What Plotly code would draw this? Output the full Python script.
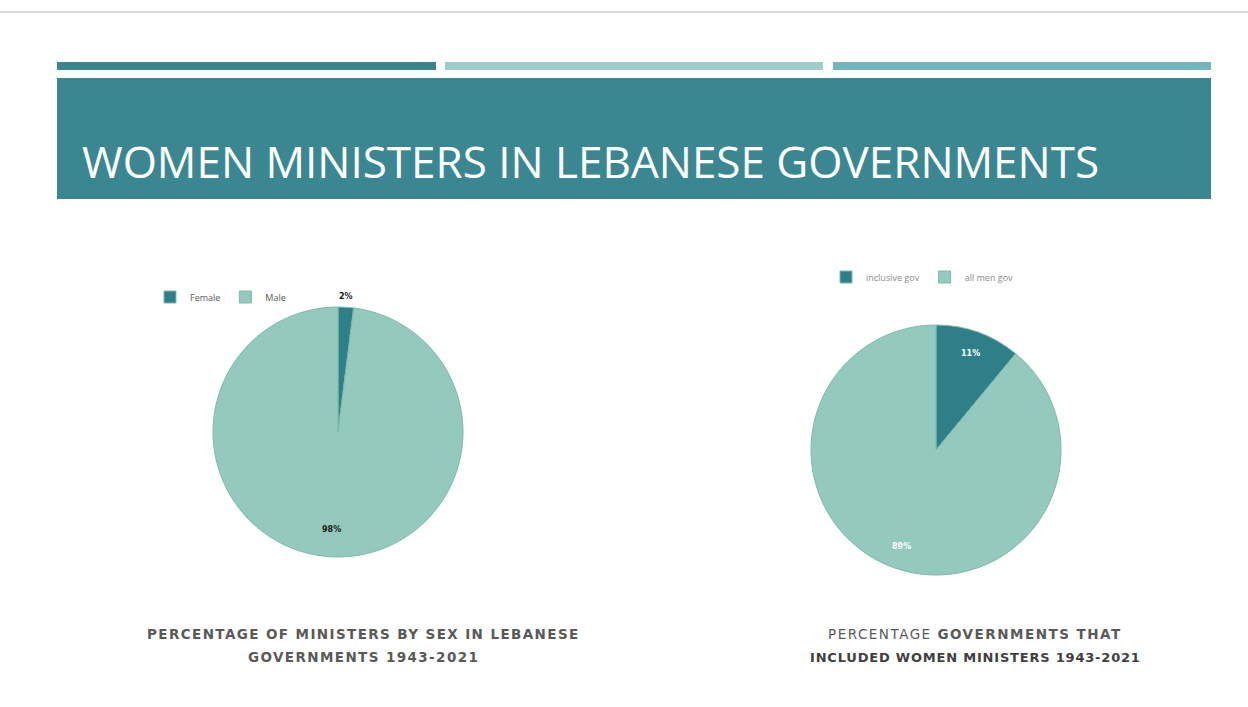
import math
import plotly.graph_objects as go

# Ministers by sex, 1943-2021 (percent)
sex_labels = ["Female", "Male"]
sex_values = [2, 98]

# Governments with / without women ministers, 1943-2021 (percent)
gov_labels = ["inclusive gov", "all men gov"]
gov_values = [11, 89]

DARK = "#2f7f89"
LIGHT = "#94c9bd"
HEADER = "#3b8791"
GREY_TXT = "#595959"

W, H = 1248, 707

# pie geometry in pixels: centre and radius
LEFT_PIE = dict(cx=338, cy=432, r=125)
RIGHT_PIE = dict(cx=936, cy=450, r=125)


def pie_domain(p):
    return dict(x=[(p["cx"] - p["r"]) / W, (p["cx"] + p["r"]) / W],
                y=[1 - (p["cy"] + p["r"]) / H, 1 - (p["cy"] - p["r"]) / H])


def slice_label_positions(values, p, frac):
    """Paper coordinates near the outer edge of each slice (clockwise from 12 o'clock)."""
    total = sum(values)
    out, start = [], 0.0
    for v in values:
        mid = (start + v / 2) / total * 2 * math.pi
        start += v
        x = p["cx"] + frac * p["r"] * math.sin(mid)
        y = p["cy"] - frac * p["r"] * math.cos(mid)
        out.append((x / W, 1 - y / H))
    return out


def spaced(text, px):
    return f'<span style="letter-spacing:{px}px">{text}</span>'


fig = go.Figure()

for labels, values, p, leg in [(sex_labels, sex_values, LEFT_PIE, "legend"),
                               (gov_labels, gov_values, RIGHT_PIE, "legend2")]:
    fig.add_trace(go.Pie(
        labels=labels, values=values, sort=False, direction="clockwise", rotation=0,
        marker=dict(colors=[DARK, LIGHT], line=dict(color="#7fb9ad", width=1)),
        textinfo="none", domain=pie_domain(p), legend=leg, hoverinfo="label+percent",
    ))

shapes = [
    # slide top edge
    dict(type="line", xref="paper", yref="paper", x0=0, x1=1, y0=1 - 12 / H, y1=1 - 12 / H,
         line=dict(color="#d9d9d9", width=2)),
    # accent bars
    dict(type="rect", xref="paper", yref="paper", x0=57 / W, x1=436 / W, y0=1 - 70 / H, y1=1 - 62 / H,
         fillcolor="#3a8590", line_width=0),
    dict(type="rect", xref="paper", yref="paper", x0=445 / W, x1=823 / W, y0=1 - 70 / H, y1=1 - 62 / H,
         fillcolor="#9ccfc9", line_width=0),
    dict(type="rect", xref="paper", yref="paper", x0=833 / W, x1=1211 / W, y0=1 - 70 / H, y1=1 - 62 / H,
         fillcolor="#72b6bd", line_width=0),
    # header band
    dict(type="rect", xref="paper", yref="paper", x0=57 / W, x1=1211 / W, y0=1 - 199 / H, y1=1 - 78 / H,
         fillcolor=HEADER, line_width=0),
]

LBL_FONT = "DejaVu Sans"
annotations = [
    dict(text="WOMEN MINISTERS IN LEBANESE GOVERNMENTS", xref="paper", yref="paper",
         x=80 / W, y=1 - 161 / H, xanchor="left", yanchor="middle", showarrow=False,
         font=dict(family="Open Sans", size=44, color="white")),
]

# data labels: left pie (small slice label sits just above the pie)
lp = slice_label_positions(sex_values, LEFT_PIE, 0.78)
annotations.append(dict(text=f"{sex_values[0]}%", xref="paper", yref="paper",
                        x=lp[0][0] + 2 / W, y=1 - 296 / H, xanchor="center", yanchor="middle",
                        showarrow=False,
                        font=dict(family=LBL_FONT, size=8, color="#1a1a1a", weight="bold")))
annotations.append(dict(text=f"{sex_values[1]}%", xref="paper", yref="paper",
                        x=lp[1][0], y=lp[1][1], xanchor="center", yanchor="middle", showarrow=False,
                        font=dict(family=LBL_FONT, size=8, color="#1a1a1a", weight="bold")))

# data labels: right pie
rp = slice_label_positions(gov_values, RIGHT_PIE, 0.82)
for (x, y), v in zip(rp, gov_values):
    annotations.append(dict(text=f"{v}%", xref="paper", yref="paper", x=x, y=y,
                            xanchor="center", yanchor="middle", showarrow=False,
                            font=dict(family=LBL_FONT, size=8, color="white", weight="bold")))

# captions
cap = dict(xref="paper", yref="paper", xanchor="center", yanchor="middle", showarrow=False)
annotations += [
    dict(cap, text=spaced("PERCENTAGE OF MINISTERS BY SEX IN LEBANESE", 1.4), x=363 / W, y=1 - 634 / H,
         font=dict(family=LBL_FONT, size=13.5, color=GREY_TXT, weight="bold")),
    dict(cap, text=spaced("GOVERNMENTS 1943-2021", 1.4), x=363 / W, y=1 - 657 / H,
         font=dict(family=LBL_FONT, size=13.5, color=GREY_TXT, weight="bold")),
    dict(cap, text=spaced("PERCENTAGE <b>GOVERNMENTS THAT</b>", 1.5), x=975 / W, y=1 - 634 / H,
         font=dict(family=LBL_FONT, size=13.5, color=GREY_TXT)),
    dict(cap, text=spaced("<b>INCLUDED WOMEN MINISTERS 1943-2021</b>", 0.8), x=975 / W, y=1 - 657 / H,
         font=dict(family=LBL_FONT, size=13, color="#404040")),
]

fig.update_layout(
    width=W, height=H, margin=dict(l=0, r=0, t=0, b=0),
    paper_bgcolor="white", plot_bgcolor="white",
    shapes=shapes, annotations=annotations,
    legend=dict(orientation="h", x=150 / W, y=1 - 297 / H, xanchor="left", yanchor="middle",
                font=dict(family="Open Sans", size=9, color=GREY_TXT), bgcolor="rgba(0,0,0,0)",
                itemwidth=30),
    legend2=dict(orientation="h", x=826 / W, y=1 - 277 / H, xanchor="left", yanchor="middle",
                 font=dict(family="Open Sans", size=9, color="#8c8c8c"), bgcolor="rgba(0,0,0,0)",
                 itemwidth=30),
)

fig.write_html("out.html")
